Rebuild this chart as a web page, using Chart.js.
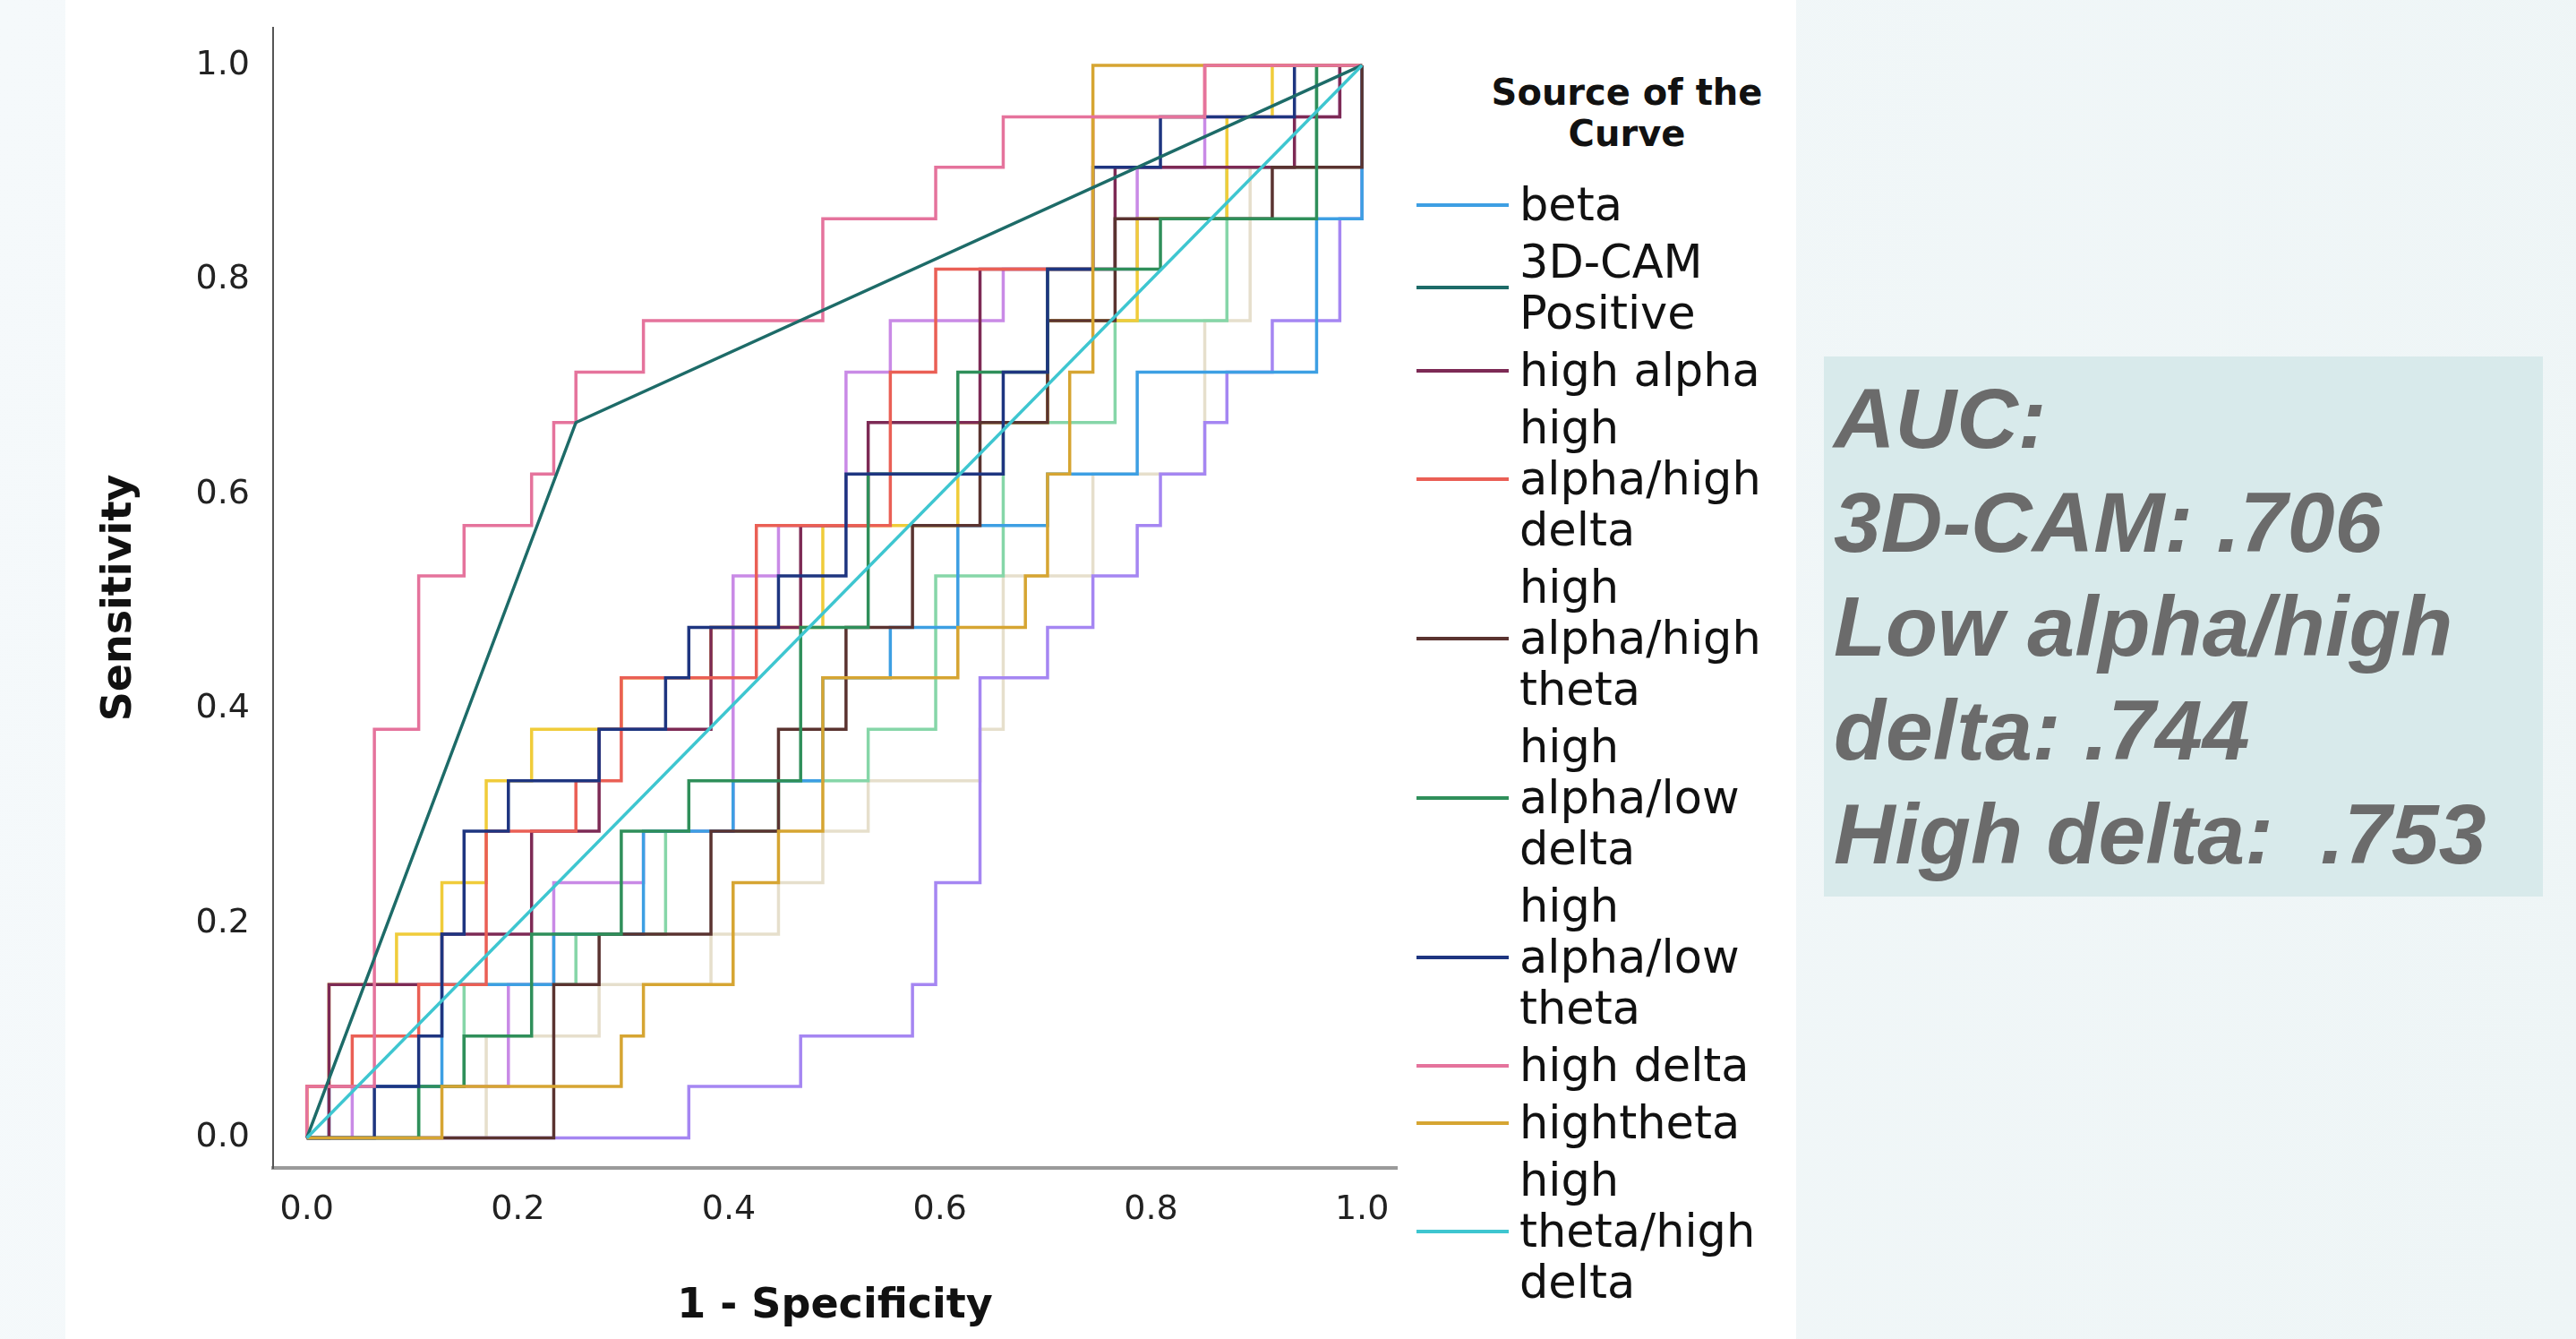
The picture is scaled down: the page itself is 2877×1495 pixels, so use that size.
<!DOCTYPE html>
<html>
<head>
<meta charset="utf-8">
<script src="https://cdn.jsdelivr.net/npm/chart.js@4.4.0/dist/chart.umd.min.js"></script>
<style>
  html, body { margin: 0; padding: 0; }
  body {
    width: 2877px; height: 1495px; position: relative; overflow: hidden;
    background: linear-gradient(100deg, #f5f9fb 0%, #eef5f6 100%);
    font-family: "DejaVu Sans", sans-serif;
  }
  #panel { position: absolute; left: 73px; top: 0; width: 1933px; height: 1495px; background: #fff; }
  #wrap { position: absolute; left: 0; top: 0; width: 1600px; height: 1495px; }
  #legendTitle {
    position: absolute; left: 1617px; top: 80px; width: 400px; text-align: center;
    font-weight: bold; font-size: 40px; line-height: 46px; color: #111;
  }
  #legend { position: absolute; left: 1582px; top: 200px; }
  .item { display: flex; align-items: center; margin-bottom: 7px; }
  .sw { width: 103px; height: 4px; margin-right: 12px; flex: none; }
  .txt { font-size: 51px; line-height: 57px; color: #111; }
  #auc {
    position: absolute; left: 2037px; top: 398px; width: 803px; height: 603px;
    box-sizing: border-box; padding: 11px 0 0 11px; background: #d8eaeb;
    font-family: "Liberation Sans", Arial, sans-serif; font-weight: bold; font-style: italic;
    font-size: 95px; line-height: 116px; color: #6b6b6b; white-space: pre;
  }
</style>
</head>
<body>
<div id="panel"></div>
<div id="wrap"><canvas id="roc" width="1600" height="1495"></canvas></div>
<div id="legendTitle">Source of the<br>Curve</div>
<div id="legend"></div>
<div id="auc">AUC:
3D-CAM: .706
Low alpha/high
delta: .744
High delta:  .753</div>

<script>
// tick labels
const xTicks = [0, 0.2, 0.4, 0.6, 0.8, 1.0];
const yTicks = [0, 0.2, 0.4, 0.6, 0.8, 1.0];

// ROC curves, [1 - specificity, sensitivity] corners
const beta = [[0,0],[.021,0],[.021,.048],[.128,.048],[.128,.143],[.234,.143],[.234,.190],[.319,.190],[.319,.286],[.404,.286],[.404,.333],[.489,.333],[.489,.429],[.553,.429],[.553,.476],[.617,.476],[.617,.571],[.702,.571],[.702,.619],[.787,.619],[.787,.714],[.957,.714],[.957,.857],[1,.857],[1,1]];
const camPositive = [[0,0],[.255,.667],[1,1]];
const highAlpha = [[0,0],[.021,0],[.021,.143],[.128,.143],[.128,.190],[.213,.190],[.213,.286],[.277,.286],[.277,.381],[.383,.381],[.383,.476],[.468,.476],[.468,.571],[.532,.571],[.532,.667],[.638,.667],[.638,.810],[.766,.810],[.766,.905],[.936,.905],[.936,.952],[.979,.952],[.979,1],[1,1]];
const highAlphaHighDelta = [[0,0],[0,.048],[.043,.048],[.043,.095],[.106,.095],[.106,.143],[.170,.143],[.170,.286],[.255,.286],[.255,.333],[.298,.333],[.298,.429],[.426,.429],[.426,.571],[.553,.571],[.553,.714],[.596,.714],[.596,.810],[.745,.810],[.745,.952],[.851,.952],[.851,1],[1,1]];
const highAlphaHighTheta = [[0,0],[.234,0],[.234,.143],[.277,.143],[.277,.190],[.383,.190],[.383,.286],[.447,.286],[.447,.381],[.511,.381],[.511,.476],[.574,.476],[.574,.571],[.638,.571],[.638,.667],[.702,.667],[.702,.762],[.766,.762],[.766,.857],[.915,.857],[.915,.905],[1,.905],[1,1]];
const highAlphaLowDelta = [[0,0],[.106,0],[.106,.048],[.149,.048],[.149,.095],[.213,.095],[.213,.190],[.298,.190],[.298,.286],[.362,.286],[.362,.333],[.468,.333],[.468,.476],[.532,.476],[.532,.619],[.617,.619],[.617,.714],[.702,.714],[.702,.810],[.809,.810],[.809,.857],[.957,.857],[.957,1],[1,1]];
const highAlphaLowTheta = [[0,0],[.064,0],[.064,.048],[.106,.048],[.106,.095],[.128,.095],[.128,.190],[.149,.190],[.149,.286],[.191,.286],[.191,.333],[.277,.333],[.277,.381],[.340,.381],[.340,.429],[.362,.429],[.362,.476],[.447,.476],[.447,.524],[.511,.524],[.511,.619],[.660,.619],[.660,.714],[.702,.714],[.702,.810],[.745,.810],[.745,.905],[.809,.905],[.809,.952],[.936,.952],[.936,1],[1,1]];
const highDelta = [[0,0],[0,.048],[.064,.048],[.064,.381],[.106,.381],[.106,.524],[.149,.524],[.149,.571],[.213,.571],[.213,.619],[.234,.619],[.234,.667],[.255,.667],[.255,.714],[.319,.714],[.319,.762],[.489,.762],[.489,.857],[.596,.857],[.596,.905],[.660,.905],[.660,.952],[.851,.952],[.851,1],[1,1]];
const hightheta = [[0,0],[.128,0],[.128,.048],[.298,.048],[.298,.095],[.319,.095],[.319,.143],[.404,.143],[.404,.238],[.447,.238],[.447,.286],[.489,.286],[.489,.429],[.617,.429],[.617,.476],[.681,.476],[.681,.524],[.702,.524],[.702,.619],[.723,.619],[.723,.714],[.745,.714],[.745,1],[1,1]];
const highThetaHighDelta = [[0,0],[1,1]];

// curves drawn in the plot whose legend rows are cut off in the picture
const extraYellow = [[0,0],[0,.048],[.021,.048],[.021,.143],[.085,.143],[.085,.190],[.128,.190],[.128,.238],[.170,.238],[.170,.333],[.213,.333],[.213,.381],[.298,.381],[.298,.429],[.383,.429],[.383,.476],[.489,.476],[.489,.571],[.617,.571],[.617,.667],[.702,.667],[.702,.762],[.787,.762],[.787,.857],[.872,.857],[.872,.952],[.915,.952],[.915,1],[1,1]];
const extraOrchid = [[0,0],[.043,0],[.043,.048],[.191,.048],[.191,.143],[.234,.143],[.234,.238],[.319,.238],[.319,.286],[.404,.286],[.404,.524],[.447,.524],[.447,.571],[.511,.571],[.511,.714],[.553,.714],[.553,.762],[.660,.762],[.660,.810],[.787,.810],[.787,.905],[.851,.905],[.851,.952],[.979,.952],[.979,1],[1,1]];
const extraLavender = [[0,0],[.362,0],[.362,.048],[.468,.048],[.468,.095],[.574,.095],[.574,.143],[.596,.143],[.596,.238],[.638,.238],[.638,.429],[.702,.429],[.702,.476],[.745,.476],[.745,.524],[.787,.524],[.787,.571],[.809,.571],[.809,.619],[.851,.619],[.851,.667],[.872,.667],[.872,.714],[.915,.714],[.915,.762],[.979,.762],[.979,.857],[1,.857],[1,1]];
const extraMint = [[0,0],[.106,0],[.106,.048],[.149,.048],[.149,.143],[.255,.143],[.255,.190],[.340,.190],[.340,.286],[.447,.286],[.447,.333],[.532,.333],[.532,.381],[.596,.381],[.596,.524],[.660,.524],[.660,.667],[.766,.667],[.766,.762],[.872,.762],[.872,.905],[.957,.905],[.957,1],[1,1]];
const extraBeige = [[0,0],[.170,0],[.170,.095],[.277,.095],[.277,.143],[.383,.143],[.383,.190],[.447,.190],[.447,.238],[.489,.238],[.489,.286],[.532,.286],[.532,.333],[.638,.333],[.638,.381],[.660,.381],[.660,.524],[.745,.524],[.745,.619],[.851,.619],[.851,.762],[.894,.762],[.894,.905],[1,.905],[1,1]];

// legend rows (label lines, colour, data), in the order of the picture
const legendSeries = [
  { lines: ['beta'], color: '#3d9fe3', data: beta, order: 9 },
  { lines: ['3D-CAM', 'Positive'], color: '#1d6b68', data: camPositive, order: 1 },
  { lines: ['high alpha'], color: '#7d2a55', data: highAlpha, order: 8 },
  { lines: ['high', 'alpha/high', 'delta'], color: '#ea5f55', data: highAlphaHighDelta, order: 7 },
  { lines: ['high', 'alpha/high', 'theta'], color: '#5a3330', data: highAlphaHighTheta, order: 6 },
  { lines: ['high', 'alpha/low', 'delta'], color: '#2f8f5a', data: highAlphaLowDelta, order: 5 },
  { lines: ['high', 'alpha/low', 'theta'], color: '#1e3580', data: highAlphaLowTheta, order: 4 },
  { lines: ['high delta'], color: '#e5739c', data: highDelta, order: 2 },
  { lines: ['hightheta'], color: '#d6a532', data: hightheta, order: 3 },
  { lines: ['high', 'theta/high', 'delta'], color: '#3ec6d0', data: highThetaHighDelta, order: 0 },
];
const hiddenSeries = [
  { color: '#f0cc3a', data: extraYellow, order: 10 },
  { color: '#c98ae6', data: extraOrchid, order: 11 },
  { color: '#a586f2', data: extraLavender, order: 12 },
  { color: '#86d6a8', data: extraMint, order: 13 },
  { color: '#e6dfcc', data: extraBeige, order: 14 },
];

// html legend
const legendEl = document.getElementById('legend');
legendSeries.forEach(s => {
  const row = document.createElement('div');
  row.className = 'item';
  const sw = document.createElement('div');
  sw.className = 'sw';
  sw.style.background = s.color;
  const txt = document.createElement('div');
  txt.className = 'txt';
  txt.innerHTML = s.lines.join('<br>');
  row.appendChild(sw);
  row.appendChild(txt);
  legendEl.appendChild(row);
});

const toDataset = (s, label) => ({
  label: label,
  data: s.data.map(p => ({ x: p[0], y: p[1] })),
  borderColor: s.color,
  backgroundColor: s.color,
  borderWidth: 3.5,
  pointRadius: 0,
  fill: false,
  tension: 0,
  order: s.order,
});

const datasets = legendSeries.map(s => toDataset(s, s.lines.join(' ')))
  .concat(hiddenSeries.map(s => toDataset(s, '')));

const tickFont = { family: 'DejaVu Sans', size: 38 };
const titleFont = { family: 'DejaVu Sans', size: 46, weight: 'bold' };

// keep the axes exactly where the picture has them (no extra label padding)
const noPad = s => { s.paddingTop = 0; s.paddingBottom = 0; s.paddingLeft = 0; s.paddingRight = 0; };

new Chart(document.getElementById('roc').getContext('2d'), {
  type: 'line',
  data: { datasets: datasets },
  options: {
    responsive: false,
    animation: false,
    devicePixelRatio: 1,
    layout: { padding: { top: 31, right: 40, left: 0, bottom: 0 } },
    plugins: { legend: { display: false }, tooltip: { enabled: false } },
    scales: {
      x: {
        type: 'linear', min: -0.032, max: 1.033,
        afterBuildTicks: s => { s.ticks = xTicks.map(v => ({ value: v })); },
        afterFit: s => { s.height = 191; noPad(s); },
        ticks: { font: tickFont, color: '#222', padding: 24, maxRotation: 0, callback: v => v.toFixed(1) },
        grid: { display: false, drawTicks: false },
        border: { display: true, color: '#9a9a9a', width: 4 },
        title: { display: true, text: '1 - Specificity', font: titleFont, color: '#111', padding: { top: 0, bottom: 8 } }
      },
      y: {
        type: 'linear', min: -0.028, max: 1.035,
        afterBuildTicks: s => { s.ticks = yTicks.map(v => ({ value: v })); },
        afterFit: s => { s.width = 305; noPad(s); },
        ticks: { font: tickFont, color: '#222', padding: 26, callback: v => v.toFixed(1) },
        grid: { display: false, drawTicks: false },
        border: { display: true, color: '#555', width: 2 },
        title: { display: true, text: 'Sensitivity', font: titleFont, color: '#111', padding: { top: 106, bottom: 0 } }
      }
    }
  }
});
</script>
</body>
</html>
